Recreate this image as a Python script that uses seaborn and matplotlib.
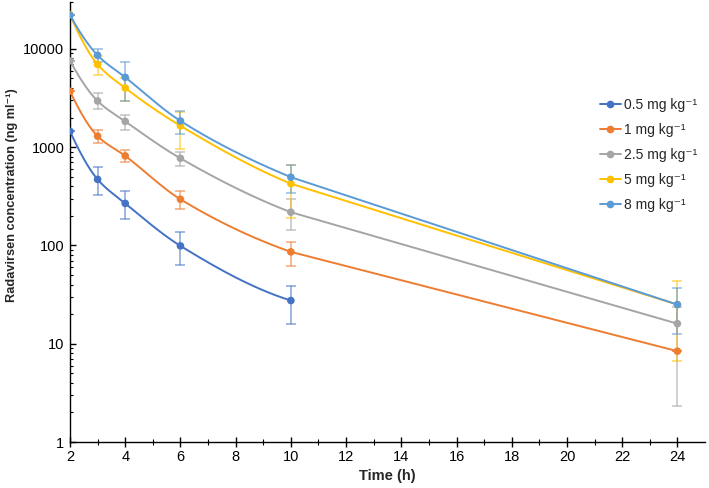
import numpy as np
import pandas as pd
import matplotlib
matplotlib.use("Agg")
import matplotlib.pyplot as plt
from matplotlib.lines import Line2D
from matplotlib.ticker import LogLocator, FixedLocator, NullFormatter
import seaborn as sns

# ---- data ----
doses = ["0.5 mg kg⁻¹", "1 mg kg⁻¹", "2.5 mg kg⁻¹", "5 mg kg⁻¹", "8 mg kg⁻¹"]
colors = ["#4472C4", "#ED7D31", "#A5A5A5", "#FFC000", "#5B9BD5"]

t_05 = [2, 3, 4, 6, 10]
c_05 = [1450, 470, 268, 99, 27.5]
lo_05 = [1450, 326, 184, 63, 15.7]
hi_05 = [1450, 626, 356, 136, 39]

t_1 = [2, 3, 4, 6, 10, 24]
c_1 = [3700, 1295, 815, 295, 86, 8.4]
lo_1 = [3700, 1100, 710, 237, 62, 8.4]
hi_1 = [3700, 1500, 940, 354, 109, 8.4]

t_25 = [2, 3, 4, 6, 10, 24]
c_25 = [7550, 2950, 1830, 770, 218, 16]
lo_25 = [7550, 2445, 1490, 645, 142, 2.35]
hi_25 = [7550, 3550, 2135, 885, 295, 23.4]

t_5 = [2, 3, 4, 6, 10, 24]
c_5 = [22300, 6950, 4000, 1650, 425, 25]
lo_5 = [22300, 5450, 2975, 955, 192, 6.7]
hi_5 = [22300, 8500, 5000, 2300, 660, 43]

t_8 = [2, 3, 4, 6, 10, 24]
c_8 = [22000, 8600, 5140, 1850, 495, 25]
lo_8 = [22000, 7300, 2975, 1357, 345, 12.6]
hi_8 = [22000, 9940, 7330, 2350, 659, 37]

series = [
    (t_05, c_05, lo_05, hi_05),
    (t_1, c_1, lo_1, hi_1),
    (t_25, c_25, lo_25, hi_25),
    (t_5, c_5, lo_5, hi_5),
    (t_8, c_8, lo_8, hi_8),
]


def smooth_log(x, y, xn):
    """Monotone cubic through the points in log space; last long
    interval (terminal phase) drawn straight in log space."""
    x = np.asarray(x, float)
    ly = np.log10(np.asarray(y, float))
    h = np.diff(x)
    d = np.diff(ly) / h
    n = len(x)
    m = np.zeros(n)
    for k in range(1, n - 1):
        if d[k - 1] * d[k] > 0:
            w1 = 2 * h[k] + h[k - 1]
            w2 = h[k] + 2 * h[k - 1]
            m[k] = (w1 + w2) / (w1 / d[k - 1] + w2 / d[k])
    m[0] = ((2 * h[0] + h[1]) * d[0] - h[0] * d[1]) / (h[0] + h[1])
    if np.sign(m[0]) != np.sign(d[0]):
        m[0] = 0
    m[-1] = ((2 * h[-1] + h[-2]) * d[-1] - h[-1] * d[-2]) / (h[-1] + h[-2])
    if np.sign(m[-1]) != np.sign(d[-1]):
        m[-1] = 0
    out = np.empty_like(xn, dtype=float)
    for i, xv in enumerate(xn):
        k = min(max(np.searchsorted(x, xv) - 1, 0), n - 2)
        s = (xv - x[k]) / h[k]
        if x[k] >= 10:
            out[i] = ly[k] + s * (ly[k + 1] - ly[k])
            continue
        h00 = 2 * s**3 - 3 * s**2 + 1
        h10 = s**3 - 2 * s**2 + s
        h01 = -2 * s**3 + 3 * s**2
        h11 = s**3 - s**2
        out[i] = h00 * ly[k] + h10 * h[k] * m[k] + h01 * ly[k + 1] + h11 * h[k] * m[k + 1]
    return 10 ** out


sns.set_theme(style="ticks")
plt.rcParams["font.family"] = ["Liberation Sans", "DejaVu Sans"]

fig = plt.figure(figsize=(7.09, 4.88), dpi=100)
ax = fig.add_axes([70 / 709, 46 / 488, 635 / 709, 440 / 488])

handles = []
for (t, c, lo, hi), col, lab in zip(series, colors, doses):
    c_arr = np.array(c)
    yerr = np.vstack([c_arr - np.array(lo), np.array(hi) - c_arr])
    ax.errorbar(t, c, yerr=yerr, fmt="none", ecolor=col, alpha=0.6,
                elinewidth=1.2, capsize=3.5, capthick=1.2, zorder=1)
for (t, c, lo, hi), col, lab in zip(series, colors, doses):
    xn = np.linspace(t[0], t[-1], 500)
    curve = pd.DataFrame({"t": xn, "c": smooth_log(t, c, xn)})
    sns.lineplot(data=curve, x="t", y="c", color=col, lw=1.4, ax=ax, zorder=2)
    pts = pd.DataFrame({"t": t, "c": c})
    sns.scatterplot(data=pts, x="t", y="c", color=col, s=30, edgecolor="none",
                    ax=ax, zorder=3)
    handles.append(Line2D([0], [0], color=col, lw=1.4, marker="o", markersize=4.5,
                          label=lab))

ax.set_yscale("log")
ax.set_xlim(2, 25)
ax.set_ylim(1, 30000)

ax.set_xticks(range(2, 25, 2))
ax.xaxis.set_minor_locator(FixedLocator(range(3, 25, 2)))
ax.yaxis.set_major_locator(FixedLocator([1, 10, 100, 1000, 10000]))
ax.set_yticklabels(["1", "10", "100", "1000", "10000"])
ax.yaxis.set_minor_locator(LogLocator(base=10, subs=np.arange(2, 10), numticks=20))
ax.yaxis.set_minor_formatter(NullFormatter())

ax.tick_params(axis="x", which="major", direction="inout", length=7, width=1,
               labelsize=10.5, color="black", labelcolor="black", pad=2)
ax.tick_params(axis="x", which="minor", direction="inout", length=4, width=0.8,
               color="black")
ax.tick_params(axis="y", which="major", direction="in", length=4, width=1,
               labelsize=10.5, color="black", labelcolor="black", pad=4)
ax.tick_params(axis="y", which="minor", direction="in", length=2.5, width=0.8,
               color="black")

for s in ["top", "right"]:
    ax.spines[s].set_visible(False)
for s in ["left", "bottom"]:
    ax.spines[s].set_color("black")
    ax.spines[s].set_linewidth(1.0)

ax.set_xlabel("Time (h)", fontsize=10.5, fontweight="bold", labelpad=4)
ax.set_ylabel("Radavirsen concentration (ng ml⁻¹)", fontsize=9.2,
              fontweight="bold")
ax.yaxis.set_label_coords(-0.082, 0.561)

fig.legend(handles=handles, loc="center left",
           bbox_to_anchor=(600 / 709, 1 - 155 / 488), frameon=False,
           fontsize=10, handlelength=1.5, handletextpad=0.2,
           labelspacing=0.8, borderpad=0, borderaxespad=0)

fig.savefig("out.png", dpi=100)
